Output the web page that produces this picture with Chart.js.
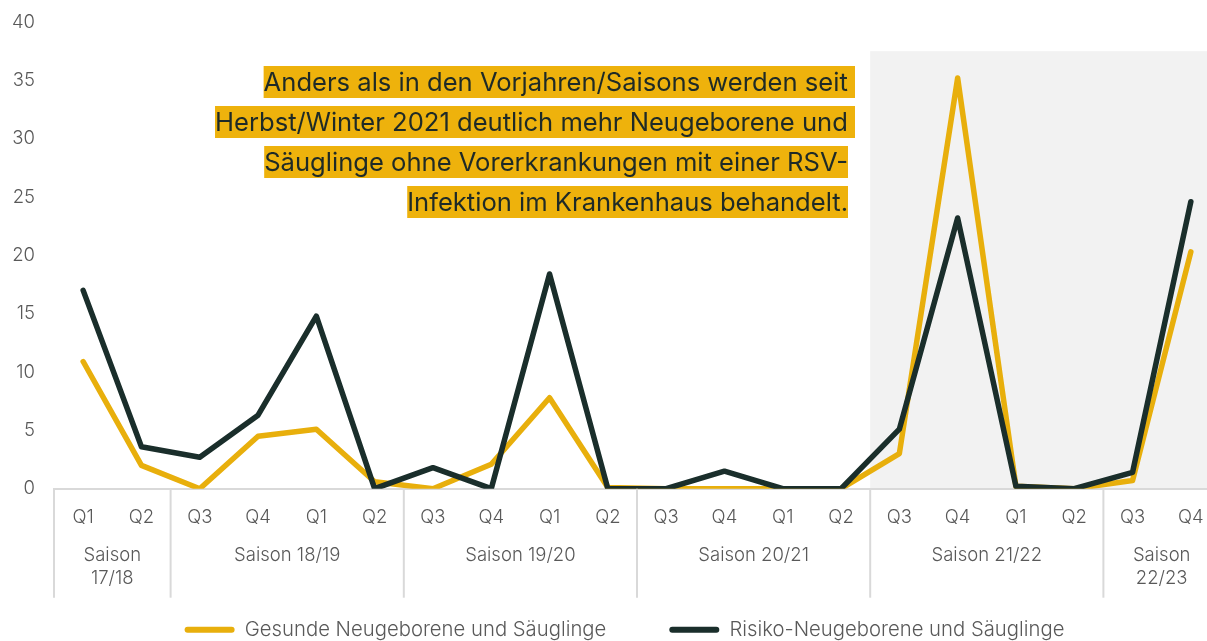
<!DOCTYPE html>
<html>
<head>
<meta charset="utf-8">
<script src="https://cdn.jsdelivr.net/npm/chart.js@4.4.1/dist/chart.umd.min.js"></script>
<style>
  html, body { margin: 0; padding: 0; overflow: hidden; background: #fff; }
</style>
</head>
<body>
<canvas id="rsvChart" width="1249" height="650"></canvas>
<script>
const quarters = ['Q1', 'Q2', 'Q3', 'Q4', 'Q1', 'Q2', 'Q3', 'Q4', 'Q1', 'Q2',
                  'Q3', 'Q4', 'Q1', 'Q2', 'Q3', 'Q4', 'Q1', 'Q2', 'Q3', 'Q4'];
const gesunde = [10.9, 2.0, 0, 4.5, 5.1, 0.6, 0, 2.1, 7.8, 0.1,
                 0, 0, 0, 0, 3.0, 35.2, 0.2, 0, 0.7, 20.3];
const risiko = [17.0, 3.6, 2.7, 6.3, 14.8, 0, 1.8, 0, 18.4, 0,
                0, 1.5, 0, 0, 5.1, 23.2, 0.2, 0, 1.4, 24.6];
const seasonNames = [['Saison', '17/18'], ['Saison 18/19'], ['Saison 19/20'],
                     ['Saison 20/21'], ['Saison 21/22'], ['Saison', '22/23']];
const seasonSizes = [2, 4, 4, 4, 4, 2];
const noteLines = ['Anders als in den Vorjahren/Saisons werden seit ',
                   'Herbst/Winter 2021 deutlich mehr Neugeborene und ',
                   'Säuglinge ohne Vorerkrankungen mit einer RSV-',
                   'Infektion im Krankenhaus behandelt.'];

const YELLOW = '#E8AF0C';
const DARK = '#1A2E2B';
const GREY_TEXT = '#595959';
const LINE_GREY = '#d9d9d9';
const FONT = 'Inter';

// shaded from the start of Saison 21/22 up to 37.5
const shadeFrom = 14;
const shadeTop = 37.5;

const seasonPlugin = {
    id: 'seasonPlugin',
    beforeDraw(chart) {
        const x = chart.scales.x, y = chart.scales.y;
        const step = x.getPixelForValue(1) - x.getPixelForValue(0);
        const ctx = chart.ctx;
        ctx.save();
        ctx.fillStyle = '#f2f2f2';
        const x0 = x.getPixelForValue(shadeFrom) - step / 2;
        const y0 = y.getPixelForValue(shadeTop);
        ctx.fillRect(x0, y0, chart.width - x0, y.getPixelForValue(0) - y0);
        ctx.restore();
    },
    afterDraw(chart) {
        const x = chart.scales.x, y = chart.scales.y;
        const ctx = chart.ctx;
        const step = x.getPixelForValue(1) - x.getPixelForValue(0);
        const base = y.getPixelForValue(0);
        ctx.save();
        // season separators and labels
        ctx.strokeStyle = LINE_GREY;
        ctx.lineWidth = 2;
        ctx.fillStyle = GREY_TEXT;
        ctx.font = '300 18.5px ' + FONT;
        ctx.textAlign = 'center';
        ctx.textBaseline = 'middle';
        let idx = 0;
        seasonSizes.forEach((n, i) => {
            const left = x.getPixelForValue(idx) - step / 2;
            ctx.beginPath();
            ctx.moveTo(left, base);
            ctx.lineTo(left, base + 109);
            ctx.stroke();
            const mid = left + n * step / 2;
            seasonNames[i].forEach((t, k) => {
                ctx.fillText(t, mid, base + 67 + k * 23);
            });
            idx += n;
        });
        // annotation, sized so the second line is as wide as in the source
        ctx.font = '400 22px ' + FONT;
        const probe = ctx.measureText(noteLines[1].trim()).width;
        const size = 22 * 633 / probe;
        ctx.font = '400 ' + size.toFixed(2) + 'px ' + FONT;
        ctx.textAlign = 'right';
        noteLines.forEach((t, i) => {
            const cy = 82 + i * 40;
            const xr = i < 2 ? 855 : 848;
            const w = ctx.measureText(t).width;
            ctx.fillStyle = '#EEB20C';
            ctx.fillRect(xr - w, cy - 16, w, 32);
            ctx.fillStyle = '#1e2a27';
            ctx.fillText(t, xr, cy + 1);
        });
        ctx.restore();
    }
};

new Chart(document.getElementById('rsvChart'), {
    type: 'line',
    data: {
        labels: quarters,
        datasets: [{
            label: 'Gesunde Neugeborene und Säuglinge',
            data: gesunde,
            borderColor: YELLOW,
            backgroundColor: YELLOW,
            borderWidth: 5.5,
            order: 1
        }, {
            label: 'Risiko-Neugeborene und Säuglinge',
            data: risiko,
            borderColor: DARK,
            backgroundColor: DARK,
            borderWidth: 5.5,
            order: 0
        }]
    },
    options: {
        responsive: false,
        animation: false,
        layout: { padding: { top: 22, right: 0, left: 0, bottom: 0 } },
        elements: {
            point: { radius: 0 },
            line: { tension: 0, borderCapStyle: 'round', borderJoinStyle: 'round' }
        },
        scales: {
            x: {
                offset: true,
                grid: { display: false, drawTicks: false },
                border: { display: true, color: LINE_GREY, width: 2 },
                ticks: { color: GREY_TEXT, font: { family: FONT, size: 18.5, weight: 300 }, padding: 18, maxRotation: 0, autoSkip: false },
                afterFit(s) { s.height = 68; }
            },
            y: {
                min: 0,
                max: 40,
                grid: { display: false, drawTicks: false },
                border: { display: false },
                ticks: { stepSize: 5, color: GREY_TEXT, font: { family: FONT, size: 18.5, weight: 300 }, padding: 19 },
                afterFit(s) { s.width = 54; s.paddingTop = 0; s.paddingBottom = 0; }
            },
            // empty right-hand axis, only keeps room right of the plot
            yRight: {
                position: 'right',
                min: 0,
                max: 40,
                grid: { display: false, drawTicks: false },
                border: { display: false },
                ticks: { display: false },
                afterFit(s) { s.width = 29; s.paddingTop = 0; s.paddingBottom = 0; }
            }
        },
        plugins: {
            tooltip: { enabled: false },
            legend: {
                position: 'bottom',
                labels: {
                    color: GREY_TEXT,
                    font: { family: FONT, size: 20.3, weight: 300 },
                    boxWidth: 50,
                    boxHeight: 6,
                    useBorderRadius: true,
                    borderRadius: 3,
                    padding: 63,
                    generateLabels(chart) {
                        const items = Chart.defaults.plugins.legend.labels.generateLabels(chart);
                        items.forEach(it => { it.lineWidth = 0; });
                        return items.sort((a, b) => a.datasetIndex - b.datasetIndex);
                    }
                }
            }
        }
    },
    plugins: [seasonPlugin]
});
</script>
</body>
</html>
